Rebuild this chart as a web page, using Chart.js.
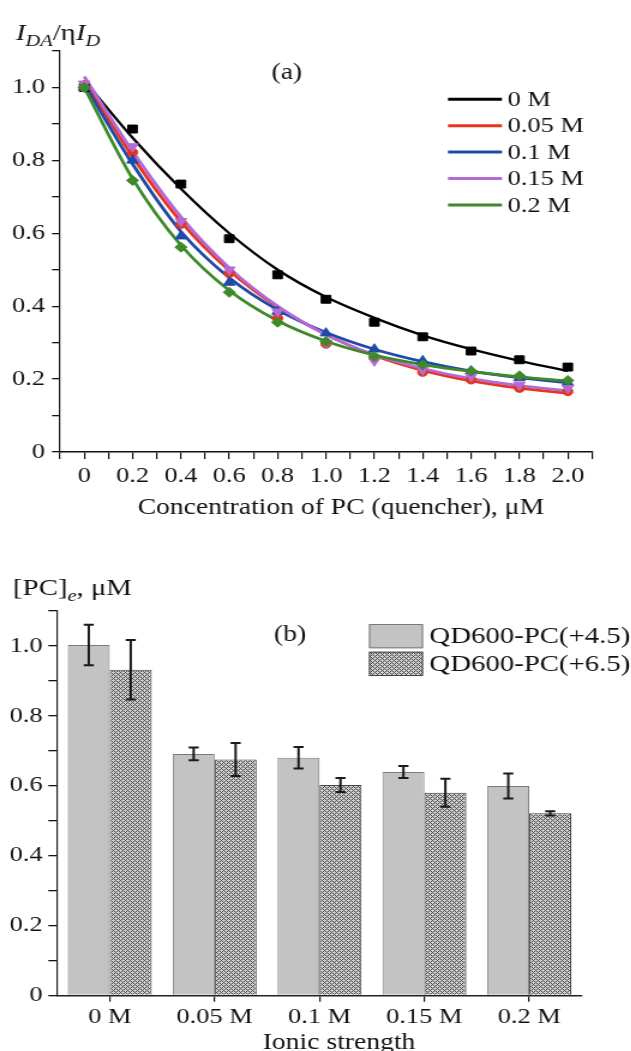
<!DOCTYPE html>
<html>
<head>
<meta charset="utf-8">
<script src="https://cdn.jsdelivr.net/npm/chart.js@4.4.1/dist/chart.umd.min.js"></script>
<style>
  html, body { margin: 0; padding: 0; background: #fff; overflow: hidden; }
  /* the figure is drawn narrow and stretched sideways, like the source scan */
  .panel { position: absolute; left: 0; width: 526px; transform: scale(1.2, 1); transform-origin: 0 0; }
  #wrapA { top: 0; height: 540px; }
  #wrapB { top: 540px; height: 511px; }
</style>
</head>
<body>
<div id="wrapA" class="panel"><canvas id="chartA" width="526" height="540"></canvas></div>
<div id="wrapB" class="panel"><canvas id="chartB" width="526" height="511"></canvas></div>
<script>
// ---- panel (a): quenching curves ----
const conc = [0, 0.2, 0.4, 0.6, 0.8, 1.0, 1.2, 1.4, 1.6, 1.8, 2.0];
const seriesNames = ['0 M', '0.05 M', '0.1 M', '0.15 M', '0.2 M'];

// measured points
const pts0   = [1.00, 0.886, 0.735, 0.585, 0.486, 0.419, 0.356, 0.316, 0.277, 0.253, 0.233];
const pts005 = [1.00, 0.822, 0.625, 0.490, 0.367, 0.296, 0.257, 0.219, 0.198, 0.175, 0.166];
const pts01  = [1.00, 0.800, 0.592, 0.465, 0.385, 0.326, 0.282, 0.250, 0.222, 0.203, 0.190];
const pts015 = [1.01, 0.838, 0.633, 0.500, 0.385, 0.298, 0.250, 0.225, 0.207, 0.184, 0.175];
const pts02  = [1.00, 0.745, 0.562, 0.438, 0.356, 0.303, 0.262, 0.239, 0.222, 0.209, 0.196];

// fitted curves (read at the same concentrations)
const fit0   = [1.02, 0.862, 0.722, 0.600, 0.500, 0.425, 0.368, 0.320, 0.282, 0.250, 0.222];
const fit005 = [1.02, 0.810, 0.632, 0.498, 0.398, 0.322, 0.265, 0.224, 0.195, 0.175, 0.161];
const fit01  = [1.01, 0.790, 0.605, 0.478, 0.390, 0.328, 0.282, 0.248, 0.222, 0.204, 0.190];
const fit015 = [1.03, 0.825, 0.645, 0.505, 0.400, 0.322, 0.267, 0.229, 0.201, 0.182, 0.168];
const fit02  = [1.00, 0.750, 0.567, 0.443, 0.360, 0.304, 0.266, 0.240, 0.221, 0.206, 0.195];

// ---- panel (b): bars ----
const ionic = ['0 M', '0.05 M', '0.1 M', '0.15 M', '0.2 M'];
const pc45    = [1.003, 0.691, 0.680, 0.639, 0.599];
const pc45Err = [0.058, 0.018, 0.031, 0.017, 0.036];
const pc65    = [0.932, 0.675, 0.602, 0.580, 0.521];
const pc65Err = [0.085, 0.047, 0.020, 0.040, 0.006];
const barNames = ['QD600-PC(+4.5)', 'QD600-PC(+6.5)'];

const FONT = 'Liberation Serif';
const INK = '#111';
const colors = ['#000000', '#e8341c', '#1f4aa8', '#b46ad6', '#3e8a2a'];
const markers = ['rect', 'circle', 'triangle', 'triangle', 'rectRot'];
const markerRot = [0, 0, 0, 180, 0];
const markerSize = [5.6, 4.2, 5.5, 5.5, 5];
const allPts = [pts0, pts005, pts01, pts015, pts02];
const allFits = [fit0, fit005, fit01, fit015, fit02];

function richText(ctx, x, parts) {
  // parts: [text, font, baselineY]
  parts.forEach(([t, f, y]) => {
    ctx.font = f;
    ctx.fillText(t, x, y);
    x += ctx.measureText(t).width;
  });
}

function evenLabel(v) {
  const n = Math.round(v * 10);
  if (n < 0 || n % 2 !== 0) return '';
  return n === 0 ? '0' : (n / 10).toFixed(1);
}

const datasetsA = [];
allFits.forEach((f, i) => {
  datasetsA.push({
    type: 'line',
    label: seriesNames[i] + ' fit',
    data: conc.map((x, k) => ({ x, y: f[k] })),
    borderColor: colors[i],
    borderWidth: i === 0 ? 2.3 : 2.8,
    pointRadius: 0,
    cubicInterpolationMode: 'monotone',
    fill: false,
    order: 100 - i
  });
});
allPts.forEach((p, i) => {
  datasetsA.push({
    type: 'scatter',
    label: seriesNames[i],
    data: conc.map((x, k) => ({ x, y: p[k] })),
    backgroundColor: colors[i],
    borderColor: colors[i],
    borderWidth: 1,
    pointStyle: markers[i],
    rotation: markerRot[i],
    pointRadius: markerSize[i],
    order: 50 - i
  });
});

const decorA = {
  id: 'decorA',
  afterDraw(chart) {
    const ctx = chart.ctx;
    ctx.save();
    ctx.fillStyle = INK;
    ctx.textBaseline = 'alphabetic';
    ctx.textAlign = 'left';
    richText(ctx, 13.3, [
      ['I', 'italic 24px ' + FONT, 40],
      ['DA', 'italic 17px ' + FONT, 46],
      ['/η', '24px ' + FONT, 40],
      ['I', 'italic 24px ' + FONT, 40],
      ['D', 'italic 17px ' + FONT, 46]
    ]);
    ctx.font = '23px ' + FONT;
    ctx.textAlign = 'center';
    ctx.textBaseline = 'middle';
    ctx.fillText('(a)', 239, 73);
    ctx.fillText('Concentration of PC (quencher), μM', 284, 508);
    // legend
    ctx.font = '22px ' + FONT;
    ctx.textAlign = 'left';
    seriesNames.forEach((n, i) => {
      const y = 99.3 + i * 26.4;
      ctx.strokeStyle = colors[i];
      ctx.lineWidth = 3;
      ctx.beginPath();
      ctx.moveTo(373.3, y);
      ctx.lineTo(418.3, y);
      ctx.stroke();
      ctx.fillText(n, 423, y + 1);
    });
    ctx.restore();
  }
};

const tickFont = { family: FONT, size: 22 };

new Chart(document.getElementById('chartA'), {
  data: { datasets: datasetsA },
  options: {
    responsive: false,
    animation: false,
    devicePixelRatio: 1,
    layout: { padding: { top: 51, right: 32.7, left: 0, bottom: 0 } },
    plugins: { legend: { display: false }, tooltip: { enabled: false } },
    scales: {
      x: {
        type: 'linear', min: -0.1, max: 2.1,
        afterFit: (s) => { s.height = 88; },
        ticks: {
          stepSize: 0.1, autoSkip: false, maxRotation: 0, padding: 4,
          font: tickFont, color: INK, callback: evenLabel
        },
        grid: { drawOnChartArea: false, tickLength: 7, color: INK, lineWidth: 1.2 },
        border: { color: INK, width: 1.4 }
      },
      y: {
        type: 'linear', min: 0, max: 1.1,
        afterFit: (s) => { s.width = 50; },
        ticks: {
          stepSize: 0.1, autoSkip: false, padding: 5.8,
          font: tickFont, color: INK, callback: evenLabel
        },
        grid: { drawOnChartArea: false, tickLength: 6.7, color: INK, lineWidth: 1.3 },
        border: { color: INK, width: 1.2 }
      }
    }
  },
  plugins: [decorA]
});

// ---- panel (b) ----
const ctxB = document.getElementById('chartB').getContext('2d');
function makeHatch() {
  const c = document.createElement('canvas');
  c.width = 4; c.height = 4;
  const g = c.getContext('2d');
  g.fillStyle = '#d4d4d4';
  g.fillRect(0, 0, 4, 4);
  g.fillStyle = '#4a4a4a';
  for (let i = 0; i < 4; i++) {
    for (let j = 0; j < 4; j++) {
      if ((i + j) % 4 === 0 || (i - j + 4) % 4 === 0) g.fillRect(i, j, 1, 1);
    }
  }
  return ctxB.createPattern(c, 'repeat');
}
const hatch = makeHatch();
const barFills = ['#c3c3c3', hatch];
const barBorders = ['#7a7a7a', '#444444'];

const errorBars = {
  id: 'errorBars',
  afterDatasetsDraw(chart) {
    const ctx = chart.ctx;
    const ys = chart.scales.y;
    [pc45Err, pc65Err].forEach((errs, di) => {
      const meta = chart.getDatasetMeta(di);
      meta.data.forEach((bar, k) => {
        const v = chart.data.datasets[di].data[k];
        const top = ys.getPixelForValue(v + errs[k]);
        const bot = ys.getPixelForValue(v - errs[k]);
        ctx.save();
        ctx.strokeStyle = '#1a1a1a';
        ctx.lineWidth = 2;
        ctx.beginPath();
        ctx.moveTo(bar.x, top); ctx.lineTo(bar.x, bot);
        ctx.moveTo(bar.x - 4.2, top); ctx.lineTo(bar.x + 4.2, top);
        ctx.moveTo(bar.x - 4.2, bot); ctx.lineTo(bar.x + 4.2, bot);
        ctx.stroke();
        ctx.restore();
      });
    });
  }
};

const decorB = {
  id: 'decorB',
  afterDraw(chart) {
    const ctx = chart.ctx;
    ctx.save();
    ctx.fillStyle = INK;
    ctx.textAlign = 'left';
    ctx.textBaseline = 'alphabetic';
    richText(ctx, 10.8, [
      ['[PC]', '24px ' + FONT, 55],
      ['e', 'italic 17px ' + FONT, 61],
      [', μM', '24px ' + FONT, 55]
    ]);
    ctx.font = '23px ' + FONT;
    ctx.textAlign = 'center';
    ctx.textBaseline = 'middle';
    ctx.fillText('(b)', 241.7, 95);
    ctx.textBaseline = 'alphabetic';
    ctx.fillText('Ionic strength', 282.5, 509);
    // legend boxes
    const boxY = [84, 111.7];
    barNames.forEach((n, i) => {
      ctx.fillStyle = barFills[i];
      ctx.fillRect(307.5, boxY[i], 45, 24.3);
      ctx.strokeStyle = barBorders[i];
      ctx.lineWidth = 1;
      ctx.strokeRect(308, boxY[i] + 0.5, 44, 23.3);
      ctx.fillStyle = INK;
      ctx.font = '24px ' + FONT;
      ctx.textAlign = 'left';
      ctx.textBaseline = 'middle';
      ctx.fillText(n, 357.8, boxY[i] + 13);
    });
    ctx.restore();
  }
};

new Chart(ctxB, {
  type: 'bar',
  data: {
    labels: ionic,
    datasets: [
      { label: barNames[0], data: pc45, backgroundColor: barFills[0], borderColor: barBorders[0], borderWidth: 1 },
      { label: barNames[1], data: pc65, backgroundColor: barFills[1], borderColor: barBorders[1], borderWidth: 1 }
    ]
  },
  options: {
    responsive: false,
    animation: false,
    devicePixelRatio: 1,
    categoryPercentage: 0.8,
    barPercentage: 1.0,
    layout: { padding: { top: 71, right: 41.25, left: 0, bottom: 0 } },
    plugins: { legend: { display: false }, tooltip: { enabled: false } },
    scales: {
      x: {
        offset: true,
        afterFit: (s) => { s.height = 55.7; },
        ticks: { font: tickFont, color: INK, padding: 2, maxRotation: 0, autoSkip: false },
        grid: { offset: false, drawOnChartArea: false, tickLength: 6.5, color: INK, lineWidth: 1.2 },
        border: { color: '#222', width: 1.4 }
      },
      y: {
        min: 0, max: 1.1,
        afterFit: (s) => { s.width = 47.75; },
        ticks: {
          stepSize: 0.1, autoSkip: false, padding: 4.7,
          font: tickFont, color: INK, callback: evenLabel
        },
        grid: { drawOnChartArea: false, tickLength: 7.5, color: INK, lineWidth: 1.3 },
        border: { color: '#222', width: 1.2 }
      }
    }
  },
  plugins: [errorBars, decorB]
});
</script>
</body>
</html>
